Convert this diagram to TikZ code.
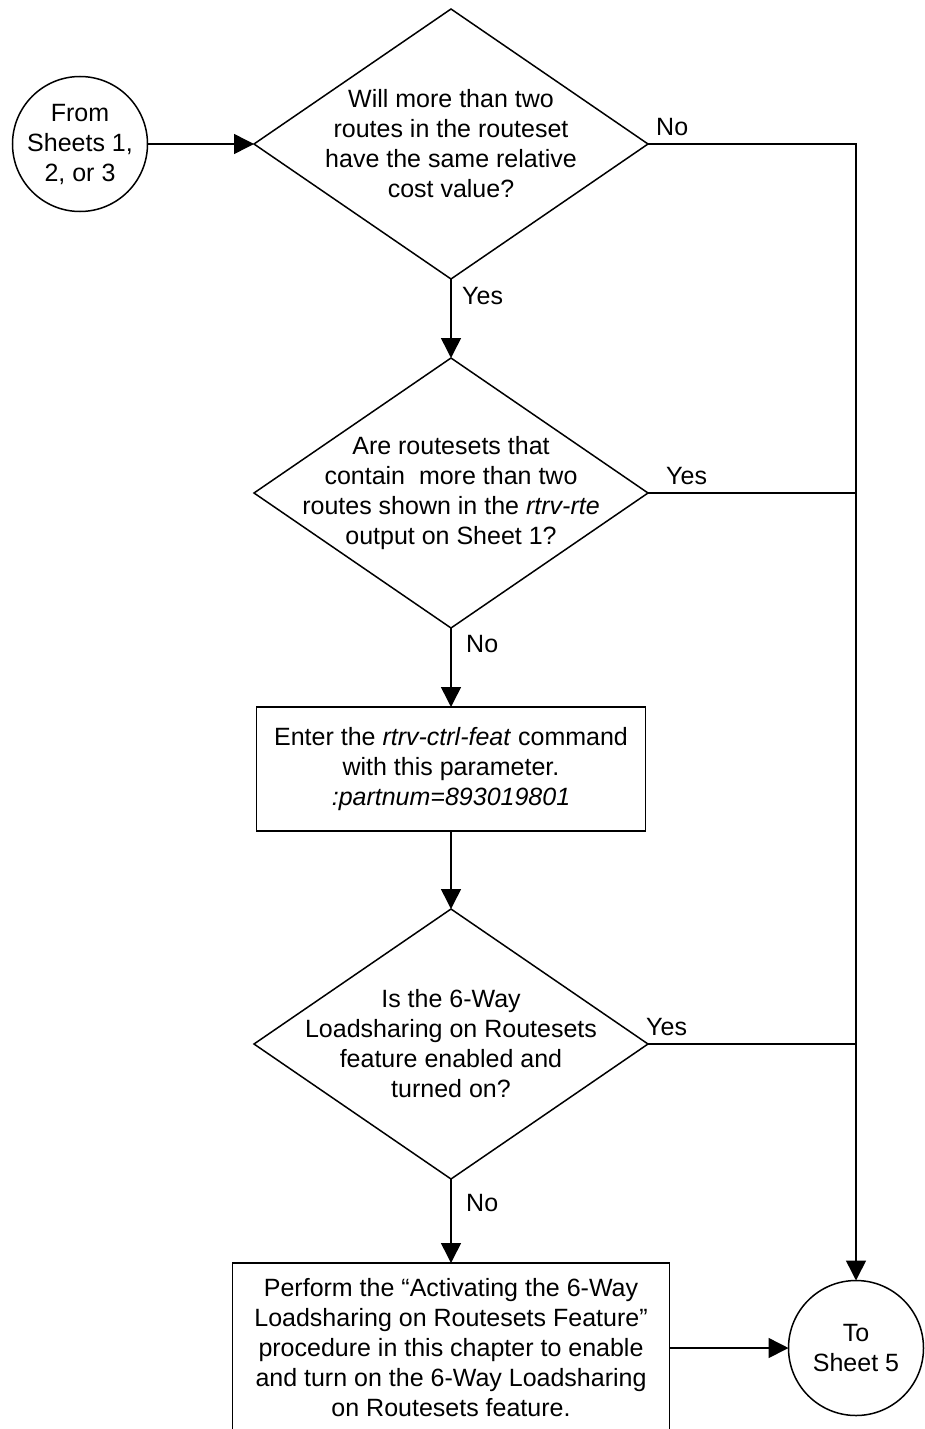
\documentclass[tikz,border=0pt]{standalone}
\usepackage{fontspec}
\setmainfont{Liberation Sans}
\usetikzlibrary{shapes.geometric,arrows.meta}
\begin{document}
\begin{tikzpicture}[x=1pt,y=-1pt,
  every node/.style={font=\fontsize{25}{30}\selectfont},
  line/.style={line width=1.5pt},
  arr/.style={line width=1.5pt,-{Triangle[length=20pt,width=20pt]}},
  decision/.style={draw,line width=1.5pt,diamond,minimum width=394pt,minimum height=270pt,inner sep=0pt,outer sep=0pt},
  dtext/.style={align=center,inner sep=0pt},
  term/.style={draw,line width=1.5pt,circle,minimum size=135pt,inner sep=0pt,outer sep=0pt,align=center},
  process/.style={draw,line width=1.5pt,rectangle,inner sep=0pt,outer sep=0pt,align=center},
  lbl/.style={anchor=west,inner sep=0pt}]
\useasboundingbox (0,0) rectangle (924,1429);
\node[term] (from) at (80,144) {From\\Sheets 1,\\2, or 3};
\node[decision] (d1) at (451,144) {};
\node[dtext] (d1t) at (d1) {Will more than two\\routes in the routeset\\have the same relative\\cost value?};
\node[decision] (d2) at (451,493) {};
\node[dtext] (d2t) at (d2) {Are routesets that\\contain\ \ more than two\\routes shown in the \textit{rtrv-rte}\\output on Sheet 1?};
\node[process,minimum width=389pt,minimum height=124pt] (b1) at (451,769) {Enter the \textit{rtrv-ctrl-feat} command\\with this parameter.\\\textit{:partnum=893019801}};
\node[decision] (d3) at (451,1044) {};
\node[dtext] (d3t) at (d3) {Is the 6-Way\\Loadsharing on Routesets\\feature enabled and\\turned on?};
\node[process,minimum width=437pt,minimum height=170pt] (b2) at (451,1348) {Perform the “Activating the 6-Way\\Loadsharing on Routesets Feature”\\procedure in this chapter to enable\\and turn on the 6-Way Loadsharing\\on Routesets feature.};
\node[term] (to) at (856,1348) {To\\Sheet 5};
\coordinate (r1) at (856,144);
\coordinate (r2) at (856,493);
\coordinate (r3) at (856,1044);
\draw[arr] (from) -- (d1.west);
\draw[arr] (d1.east) -- (r1) -- (to.north);
\draw[line] (d2.east) -- (r2);
\draw[line] (d3.east) -- (r3);
\draw[arr] (d1.south) -- (d2.north);
\draw[arr] (d2.south) -- (b1.north);
\draw[arr] (b1.south) -- (d3.north);
\draw[arr] (d3.south) -- (b2.north);
\draw[arr] (b2.east) -- (to.west);
\node[lbl] (l1) at (656,127) {No};
\node[lbl] (l2) at (462,296) {Yes};
\node[lbl] (l3) at (666,476) {Yes};
\node[lbl] (l4) at (466,644) {No};
\node[lbl] (l5) at (646,1027) {Yes};
\node[lbl] (l6) at (466,1203) {No};
\end{tikzpicture}
\end{document}
